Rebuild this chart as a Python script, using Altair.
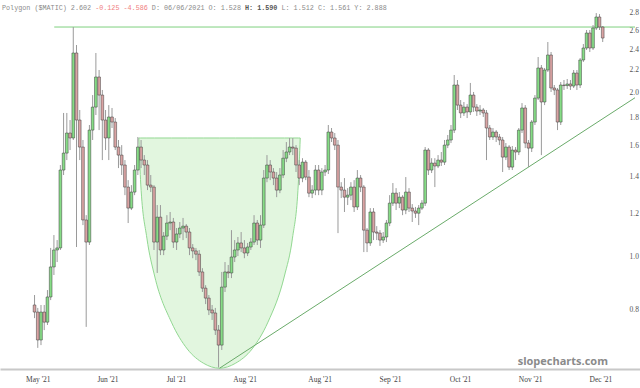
import json
import altair as alt
import pandas as pd

# ---------------- data ----------------
opens = [
    0.814, 0.790, 0.702, 0.790, 0.757, 0.842, 0.956, 1.027, 1.036, 1.440,
    1.547, 1.684, 1.649, 2.362, 1.779, 1.587, 1.166, 1.062, 1.705, 1.879,
    2.134, 1.977, 1.779, 1.649, 1.802, 1.764, 1.587, 1.534, 1.471, 1.340,
    1.226, 1.312, 1.440, 1.587, 1.502, 1.471, 1.351, 1.340, 1.062, 1.180,
    1.027, 1.089, 1.151, 1.156, 1.062, 1.099, 1.127, 1.136, 1.108, 1.036,
    1.023, 1.009, 0.936, 0.874, 0.838, 0.797, 0.787, 0.732, 0.687, 0.878,
    0.936, 0.932, 0.997, 1.027, 1.058, 1.036, 1.014, 1.040, 1.062, 1.151,
    1.071, 1.141, 1.392, 1.471, 1.428, 1.392, 1.323, 1.410, 1.514, 1.554,
    1.587, 1.580, 1.471, 1.392, 1.489, 1.398, 1.306, 1.323, 1.440, 1.323,
    1.428, 1.440, 1.691, 1.649, 1.600, 1.340, 1.323, 1.284, 1.295, 1.340,
    1.232, 1.392, 1.340, 1.117, 1.058, 1.206, 1.108, 1.103, 1.071, 1.085,
    1.151, 1.252, 1.306, 1.252, 1.284, 1.216, 1.312, 1.226, 1.211, 1.200,
    1.226, 1.252, 1.567, 1.440, 1.483, 1.465, 1.502, 1.489, 1.600, 1.635,
    1.705, 2.063, 1.895, 1.833, 1.879, 1.841, 1.977, 1.879, 1.848, 1.856,
    1.833, 1.720, 1.656, 1.691, 1.656, 1.635, 1.521, 1.587, 1.458, 1.567,
    1.554, 1.705, 1.872, 1.614, 1.580, 1.764, 1.952, 2.217, 1.920, 2.198,
    2.342, 2.037, 2.020, 1.764, 2.063, 2.058, 2.072, 2.054, 2.170, 2.063,
    2.293, 2.412, 2.570, 2.412, 2.625, 2.750, 2.636,
]
closes = [
    0.790, 0.702, 0.790, 0.757, 0.842, 0.956, 1.027, 1.036, 1.440, 1.547,
    1.684, 1.649, 2.362, 1.779, 1.587, 1.166, 1.062, 1.705, 1.879, 2.134,
    1.977, 1.779, 1.649, 1.802, 1.764, 1.587, 1.534, 1.471, 1.340, 1.226,
    1.312, 1.440, 1.587, 1.502, 1.471, 1.351, 1.340, 1.062, 1.180, 1.027,
    1.089, 1.151, 1.156, 1.062, 1.099, 1.127, 1.136, 1.108, 1.036, 1.023,
    1.009, 0.936, 0.874, 0.838, 0.797, 0.787, 0.732, 0.687, 0.878, 0.936,
    0.932, 0.997, 1.027, 1.058, 1.036, 1.014, 1.040, 1.062, 1.151, 1.071,
    1.141, 1.392, 1.471, 1.428, 1.392, 1.323, 1.410, 1.514, 1.554, 1.587,
    1.580, 1.471, 1.392, 1.489, 1.398, 1.306, 1.323, 1.440, 1.323, 1.428,
    1.440, 1.691, 1.649, 1.600, 1.340, 1.323, 1.284, 1.295, 1.340, 1.232,
    1.392, 1.340, 1.117, 1.058, 1.206, 1.108, 1.103, 1.071, 1.085, 1.151,
    1.252, 1.306, 1.252, 1.284, 1.216, 1.312, 1.226, 1.211, 1.200, 1.226,
    1.252, 1.567, 1.440, 1.483, 1.465, 1.502, 1.489, 1.600, 1.635, 1.705,
    2.063, 1.895, 1.833, 1.879, 1.841, 1.977, 1.879, 1.848, 1.856, 1.833,
    1.720, 1.656, 1.691, 1.656, 1.635, 1.521, 1.587, 1.458, 1.567, 1.554,
    1.705, 1.872, 1.614, 1.580, 1.764, 1.952, 2.217, 1.920, 2.198, 2.342,
    2.037, 2.020, 1.764, 2.063, 2.058, 2.072, 2.054, 2.170, 2.063, 2.293,
    2.412, 2.570, 2.412, 2.625, 2.750, 2.636, 2.516,
]
highs = [
    0.849, 0.804, 0.814, 0.814, 0.867, 1.036, 1.094, 1.071, 1.471, 1.833,
    1.833, 1.779, 2.636, 2.443, 1.856, 1.635, 1.190, 1.742, 1.977, 2.362,
    2.198, 2.020, 1.856, 1.895, 1.872, 1.794, 1.635, 1.600, 1.502, 1.380,
    1.351, 1.471, 1.656, 1.635, 1.534, 1.502, 1.410, 1.351, 1.242, 1.242,
    1.108, 1.190, 1.206, 1.176, 1.127, 1.156, 1.176, 1.146, 1.127, 1.053,
    1.036, 1.027, 0.951, 0.885, 0.849, 0.814, 0.804, 0.748, 0.936, 0.976,
    0.964, 1.117, 1.071, 1.085, 1.108, 1.071, 1.058, 1.080, 1.190, 1.166,
    1.190, 1.440, 1.534, 1.502, 1.452, 1.428, 1.452, 1.567, 1.621, 1.649,
    1.649, 1.600, 1.502, 1.514, 1.502, 1.440, 1.351, 1.471, 1.471, 1.452,
    1.471, 1.742, 1.720, 1.684, 1.635, 1.368, 1.392, 1.334, 1.368, 1.380,
    1.440, 1.410, 1.351, 1.127, 1.226, 1.226, 1.136, 1.117, 1.108, 1.166,
    1.295, 1.363, 1.334, 1.312, 1.295, 1.398, 1.334, 1.247, 1.232, 1.242,
    1.268, 1.587, 1.580, 1.514, 1.514, 1.534, 1.554, 1.635, 1.670, 1.742,
    2.152, 2.107, 1.936, 1.920, 1.903, 2.081, 2.003, 1.903, 1.895, 1.872,
    1.856, 1.742, 1.720, 1.705, 1.677, 1.656, 1.614, 1.600, 1.594, 1.587,
    1.720, 1.911, 1.895, 1.635, 1.779, 1.977, 2.322, 2.245, 2.217, 2.474,
    2.372, 2.063, 2.037, 2.089, 2.107, 2.116, 2.107, 2.198, 2.198, 2.312,
    2.453, 2.603, 2.603, 2.658, 2.796, 2.784, 2.647,
]
lows = [
    0.770, 0.679, 0.687, 0.732, 0.748, 0.831, 0.924, 0.976, 1.027, 1.410,
    1.502, 1.567, 1.635, 1.040, 1.502, 1.141, 0.742, 1.049, 1.635, 1.817,
    1.705, 1.502, 1.567, 1.502, 1.720, 1.567, 1.452, 1.410, 1.295, 1.151,
    1.216, 1.295, 1.410, 1.452, 1.410, 1.323, 1.312, 1.027, 0.932, 1.005,
    1.005, 1.071, 1.117, 1.036, 1.027, 1.080, 1.071, 1.080, 1.005, 0.992,
    0.984, 0.920, 0.860, 0.817, 0.780, 0.764, 0.717, 0.625, 0.673, 0.860,
    0.912, 0.912, 0.976, 1.001, 1.018, 0.992, 1.001, 1.027, 1.049, 1.049,
    1.036, 1.127, 1.368, 1.380, 1.351, 1.284, 1.306, 1.392, 1.489, 1.534,
    1.534, 1.428, 1.351, 1.368, 1.380, 1.284, 1.279, 1.295, 1.295, 1.295,
    1.404, 1.416, 1.621, 1.567, 1.103, 1.279, 1.206, 1.242, 1.268, 1.206,
    1.216, 1.312, 1.018, 1.018, 1.045, 1.071, 1.071, 1.045, 1.058, 1.062,
    1.136, 1.237, 1.216, 1.226, 1.190, 1.195, 1.206, 1.156, 1.176, 1.141,
    1.216, 1.237, 1.410, 1.422, 1.340, 1.452, 1.465, 1.471, 1.580, 1.614,
    1.684, 1.856, 1.794, 1.810, 1.794, 1.817, 1.841, 1.810, 1.817, 1.802,
    1.502, 1.635, 1.635, 1.621, 1.600, 1.428, 1.502, 1.440, 1.440, 1.502,
    1.534, 1.684, 1.580, 1.458, 1.554, 1.742, 1.936, 1.534, 1.895, 2.180,
    2.003, 1.977, 1.705, 1.742, 2.020, 2.029, 2.020, 2.037, 2.020, 2.037,
    2.274, 2.392, 2.372, 2.392, 2.603, 2.603, 2.474,
]

# x-axis labels (positions in candle index) and y ticks
label_idx = [1.0, 22.6, 43.8, 65.1, 88.3, 110.1, 131.8, 153.5, 175.3]
label_txt = ["May '21", "Jun '21", "Jul '21", "Aug '21", "Aug '21",
             "Sep '21", "Oct '21", "Nov '21", "Dec '21"]
y_ticks = [0.8, 1.0, 1.2, 1.4, 1.6, 1.8, 2.0, 2.2, 2.4, 2.6, 2.8]

# cup-shaped annotation (outline)
cup_idx = [32.3, 32.9, 34.8, 37.2, 42.4, 47.3, 52.4, 57.3,
           62.2, 67.4, 72.3, 77.4, 79.9, 81.7, 82.3]
cup_low = [1.649, 1.357, 1.080, 0.920, 0.757, 0.676, 0.636, 0.623,
           0.636, 0.676, 0.757, 0.920, 1.080, 1.357, 1.649]
cup_top = [1.649] * len(cup_idx)

# resistance line and rising trendline
resist_idx = [6.1, 186.0]
resist_val = [2.636, 2.636]
trend_idx = [57.3, 186.0]
trend_val = [0.623, 1.955]

header_parts = [
    ("Polygon ($MATIC) 2.602 ", "#8a8a8a", "normal"),
    ("-0.125 -4.586", "#f08080", "normal"),
    (" D: 06/06/2021 O: 1.528 ", "#8a8a8a", "normal"),
    ("H: 1.590", "#555555", "bold"),
    (" L: 1.512 C: 1.561 Y: 2.888", "#8a8a8a", "normal"),
]

# ---------------- chart ----------------
n = len(closes)
df = pd.DataFrame({"i": list(range(n)), "open": opens, "high": highs,
                   "low": lows, "close": closes})
df["dir"] = ["up" if c >= o else "down" for o, c in zip(opens, closes)]

cup_df = pd.DataFrame({"i": cup_idx, "low": cup_low, "top": cup_top})
res_df = pd.DataFrame({"i": resist_idx, "v": resist_val})
tr_df = pd.DataFrame({"i": trend_idx, "v": trend_val})

xs = alt.Scale(domain=[-9.15, 186.0], nice=False, zero=False)
ys = alt.Scale(type="log", domain=[0.621, 2.955], nice=False)

label_expr = f"{json.dumps(label_txt)}[indexof({json.dumps(label_idx)}, datum.value)]"
x_axis = alt.Axis(values=label_idx, labelExpr=label_expr, grid=False, ticks=False,
                  domainColor="#c8c8c8", domainWidth=2, labelFont="Liberation Serif",
                  labelFontSize=7.5, labelColor="#444444", labelPadding=6,
                  title=None, labelFlush=False)
y_axis = alt.Axis(orient="right", values=y_ticks, format=".1f", offset=-11,
                  ticks=False, domain=False, grid=False, labelFont="Liberation Serif",
                  labelFontSize=7.5, labelColor="#555555", labelPadding=0,
                  title=None, labelAlign="left")

X = alt.X("i:Q", scale=xs, axis=x_axis)

cup = alt.Chart(cup_df).mark_area(
    fill="#e2f6df", stroke="#92d892", strokeWidth=1, interpolate="monotone"
).encode(x=X, y=alt.Y("low:Q", scale=ys, axis=y_axis), y2="top:Q")

resist = alt.Chart(res_df).mark_line(color="#7fd07f", strokeWidth=1).encode(
    x=X, y=alt.Y("v:Q", scale=ys, axis=y_axis))
trend = alt.Chart(tr_df).mark_line(color="#6aab6a", strokeWidth=1).encode(
    x=X, y=alt.Y("v:Q", scale=ys, axis=y_axis))

wicks = alt.Chart(df).mark_rule(color="#9a9a9a", strokeWidth=1).encode(
    x=X, y=alt.Y("low:Q", scale=ys, axis=y_axis), y2="high:Q")
bodies = alt.Chart(df).mark_bar(size=2.7, stroke="#3a3a3a", strokeWidth=0.5).encode(
    x=X, y=alt.Y("open:Q", scale=ys, axis=y_axis), y2="close:Q",
    color=alt.Color("dir:N", scale=alt.Scale(domain=["up", "down"],
                                             range=["#86dc86", "#d9a3a3"]),
                    legend=None))

layers = [cup, resist, trend, wicks, bodies]

# header: monospace pieces placed by character position (SVG drops edge spaces)
char_w = 4.05
start_char = 0
for txt, col, wt in header_parts:
    lead = len(txt) - len(txt.lstrip(" "))
    px = 2.0 + (start_char + lead) * char_w
    layers.append(
        alt.Chart(pd.DataFrame({"t": [txt.strip()]})).mark_text(
            align="left", baseline="middle", font="Liberation Mono", fontSize=6.75,
            color=col, fontWeight=wt
        ).encode(text="t:N", x=alt.value(px), y=alt.value(8))
    )
    start_char += len(txt)

layers.append(
    alt.Chart(pd.DataFrame({"t": ["slopecharts.com"]})).mark_text(
        align="right", baseline="alphabetic", font="Open Sans", fontSize=11,
        fontWeight="bold", color="#8a8a8a"
    ).encode(text="t:N", x=alt.value(608), y=alt.value(365))
)

chart = alt.layer(*layers).properties(
    width=640, height=369,
    autosize=alt.AutoSizeParams(type="none"),
    padding={"left": 0, "right": 0, "top": 0, "bottom": 19},
).configure_view(stroke=None)

chart.save("out.html", embed_options={"renderer": "svg", "actions": False})
